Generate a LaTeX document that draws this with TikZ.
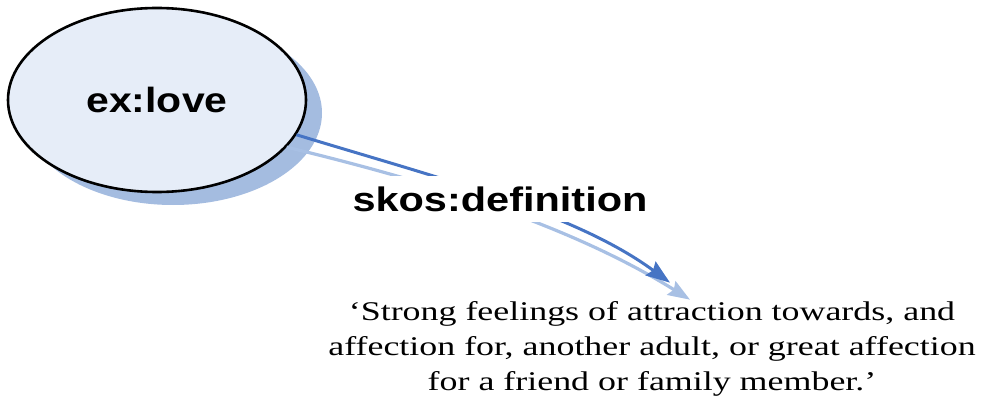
\documentclass[tikz,border=0pt]{standalone}
\usepackage{fontspec}
\setmainfont{Liberation Serif}
\newfontfamily\lovefont[FakeStretch=1.17]{Liberation Sans}
\newfontfamily\propfont[FakeStretch=1.22]{Liberation Sans}
\newfontfamily\deffont[FakeStretch=1.33]{Liberation Serif}
\usetikzlibrary{shapes.geometric,shadows,arrows.meta}
\definecolor{fillblue}{HTML}{E6EDF8}
\definecolor{shadowblue}{HTML}{A4BCE0}
\definecolor{darkblue}{HTML}{4674C4}
\definecolor{lightblue}{HTML}{A8C0E4}
\tikzset{
  resource/.style={ellipse, draw=black, line width=2.6pt, fill=fillblue,
    minimum width=298pt, minimum height=184pt, inner sep=0pt,
    font=\lovefont\bfseries\fontsize{35}{40}\selectfont,
    drop shadow={shadow xshift=16pt, shadow yshift=-13pt, fill=shadowblue, opacity=1}},
  proplabel/.style={fill=white, inner xsep=4pt, inner ysep=11pt,
    text height=24.5pt, text depth=0pt,
    font=\propfont\bfseries\fontsize{34}{40}\selectfont},
  literal/.style={align=center, inner sep=0pt,
    font=\deffont\fontsize{27}{34.7}\selectfont},
  mainedge/.style={draw=darkblue, line width=3pt,
    -{Stealth[length=24pt,width=17pt,inset=3pt]}},
  shadowedge/.style={draw=lightblue, line width=3.2pt,
    -{Stealth[length=22pt,width=16pt,inset=3pt]}}
}
\begin{document}
\begin{tikzpicture}[x=1pt,y=-1pt]
\useasboundingbox (0,0) rectangle (990,401);
\node[resource] (love) at (157,100) {ex:love};
\node[literal] (def) at (652,349) {‘Strong feelings of attraction towards, and\\affection for, another adult, or great affection\\for a friend or family member.’};
\draw[shadowedge] (love.-20) .. controls (440,184) and (575,228) .. ([shift={(38,-2)}]def.north);
\draw[mainedge] (love.-14) .. controls (445,180) and (575,213) .. ([shift={(18,-19)}]def.north);
\node[proplabel] (prop) at (500,199) {skos:definition};
\end{tikzpicture}
\end{document}
